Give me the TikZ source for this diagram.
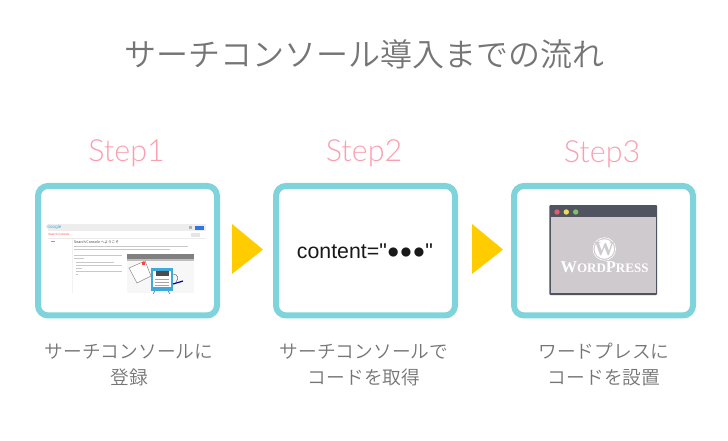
\documentclass[tikz,border=0pt]{standalone}
\usepackage{fontspec}
\setmainfont{Noto Sans CJK JP DemiLight}
\newfontfamily\boldfont{Noto Sans CJK JP}
\newfontfamily\sansfont{Liberation Sans}
\newfontfamily\serifont{Liberation Serif}
\newfontfamily\stepfont{Lato Light}
\definecolor{boxteal}{HTML}{7FD4DB}
\definecolor{steppink}{HTML}{FA9FB0}
\definecolor{arrowgold}{HTML}{FFCC00}
\definecolor{capgray}{HTML}{757575}
\definecolor{barblack}{HTML}{4F5460}
\definecolor{pagegray}{HTML}{CFCACD}
\definecolor{shotline}{HTML}{C8C8C8}
\definecolor{shotblue}{HTML}{3FA9DC}
\begin{document}
\begin{tikzpicture}
      [x=1pt,y=-1pt,
      step box/.style={rectangle,draw=boxteal,line width=6pt,rounded corners=10pt,
        fill=white,minimum width=179pt,minimum height=129.5pt,inner sep=0pt},
      step label/.style={text=steppink,anchor=base,inner sep=0pt,font=\stepfont\fontsize{30.5}{36}\selectfont},
      main title/.style={text=capgray,font=\fontsize{32}{38}\selectfont},
      caption/.style={text=capgray,align=center,font=\fontsize{18.7}{26}\selectfont},
      next tri/.style={fill=arrowgold},
      shot text/.style={shotline,line width=0.7pt},
      dot/.style={circle,inner sep=0pt,minimum size=5.4pt}]
      \useasboundingbox (0,0) rectangle (728,441);
      \node[main title] (title) at (364.5,54) {サーチコンソール導入までの流れ};
      \node[step label] (s1) at (126.5,161) {Step1};
      \node[step label] (s2) at (364,161) {Step2};
      \node[step label] (s3) at (602,162) {Step3};
      \node[step box] (b1) at (127.5,250.7) {};
      \node[step box] (b2) at (365.5,250.7) {};
      \node[step box] (b3) at (603.5,250.7) {};
      \fill[next tri] (232,224) -- (263,249.5) -- (232,274) -- cycle;
      \fill[next tri] (472,224) -- (503,249.5) -- (472,274) -- cycle;
      \node[caption] (c1) at (129,364.5) {サーチコンソールに\\登録};
      \node[caption] (c2) at (364,364.5) {サーチコンソールで\\コードを取得};
      \node[caption] (c3) at (604,364.5) {ワードプレスに\\コードを設置};
      % screenshot in the first box
      \fill[black!7] (48.3,224) rectangle (205.7,231);
      \node[font=\sansfont\fontsize{4.5}{5}\selectfont,text=shotblue,inner sep=0pt] (shotlogo) at (54,227.5) {Google};
      \fill[shotblue!70!blue] (195,225.5) rectangle (204,229.5);
      \fill[black!30] (189,226) rectangle (192,229);
      \node[font=\sansfont\fontsize{3}{4}\selectfont,text=red!70,inner sep=0pt] (shotname) at (59,234.5) {Search Console};
      \draw[black!8,line width=0.4pt] (48.3,238) -- (205.7,238);
      \fill[black!10] (191,233) rectangle (200,236.5);
      \fill[red!55] (51,241) rectangle (55,242);
      \draw[black!5,line width=0.4pt] (72,239) -- (72,293);
      \node[font=\boldfont\fontsize{3.6}{4}\selectfont,text=black!75,inner sep=0pt,anchor=west] (shothead) at (74,242) {Search Console へようこそ};
      \draw[shot text] (74,246.3) -- (188,246.3);
      \draw[shot text] (74,249.3) -- (170,249.3);
      \draw[shot text] (74,255.5) -- (122,255.5);
      \draw[shot text] (74,258.5) -- (84,258.5);
      \draw[shot text] (76,262) -- (114,262);
      \draw[shot text] (76,265.5) -- (122,265.5);
      \draw[shot text] (76,268.5) -- (82,268.5);
      \draw[shot text] (76,271.5) -- (122,271.5);
      \draw[shot text] (76,274.5) -- (78,274.5);
      % video
      \fill[black!3] (127,254) rectangle (194,293);
      \fill[black!50] (127,254) rectangle (194,259);
      \fill[black!25] (127,259) rectangle (194,261);
      \draw[fill=white,draw=black!45,line width=0.5pt] (129,268) -- (145,261) -- (151,276) -- (137,283) -- cycle;
      \fill[red!75] (141.5,261.5) rectangle (144.5,265);
      \fill[shotblue] (151,268) rectangle (173,291);
      \fill[white] (153,270.5) rectangle (171,287);
      \fill[black!70] (156,271) rectangle (169,276);
      \draw[black!35,line width=0.5pt] (155,279) -- (169,279) (155,282) -- (169,282) (155,285) -- (169,285);
      \draw[black!60,line width=0.5pt] (155,291) -- (153,294) (168,291) -- (170,294);
      \draw[black!60,line width=0.5pt] (173,274) .. controls (178,274) and (179,279) .. (176,282);
      \draw[blue!60!black,line width=1.2pt] (173,284) -- (183,281);
      % browser in the third box
      \fill[barblack,rounded corners=1pt] (549.3,205) rectangle (657,295);
      \fill[pagegray] (550.5,216.7) rectangle (655.8,293);
      \node[dot,fill={rgb,255:red,232;green,90;blue,112}] (d1) at (557,212) {};
      \node[dot,fill={rgb,255:red,236;green,220;blue,90}] (d2) at (566.3,212) {};
      \node[dot,fill={rgb,255:red,127;green,192;blue,106}] (d3) at (575.7,212) {};
      \node[circle,minimum size=19.5pt,inner sep=0pt,fill=white] (wpmark) at (604.3,249) {};
      \draw[white,line width=0.6pt] (wpmark) circle (11.3);
      \node[text=pagegray,font=\serifont\bfseries\fontsize{20}{20}\selectfont,inner sep=0pt] (wpw) at (604.3,249.3) {W};
      \node[text=white,font=\serifont\bfseries,inner sep=0pt,anchor=base] (wpname) at (604.5,272)
        {\fontsize{16.5}{18}\selectfont W\fontsize{13}{18}\selectfont ORD\fontsize{16.5}{18}\selectfont P\fontsize{13}{18}\selectfont RESS};
      % code in the second box
      \node[text=black!90,font=\sansfont\fontsize{21.3}{26}\selectfont,inner sep=0pt,anchor=base] (code) at (365,258) {content="●●●"};
    \end{tikzpicture}
\end{document}
